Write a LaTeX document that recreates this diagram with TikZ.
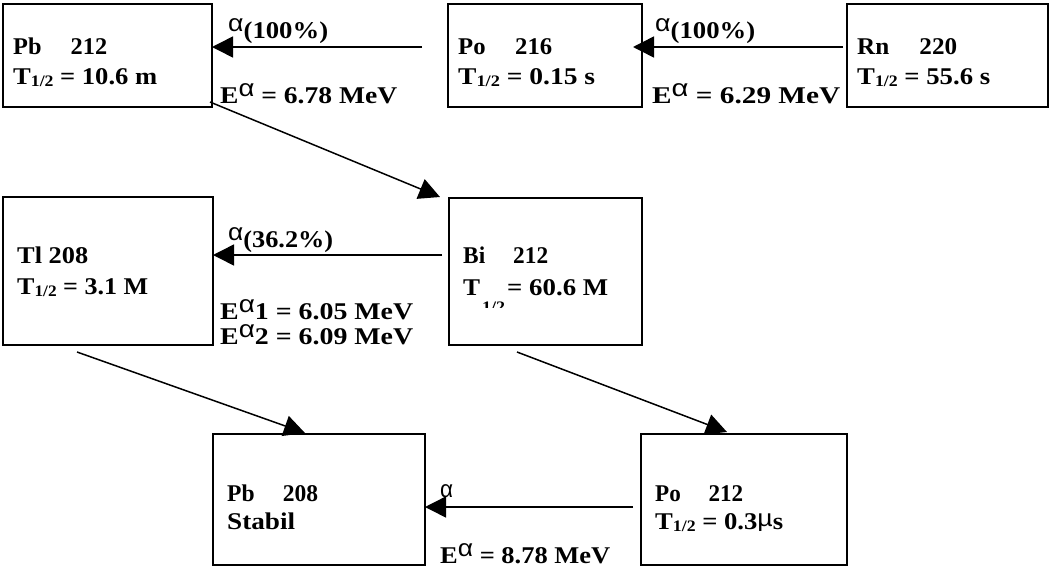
\documentclass[tikz,border=0pt]{standalone}
\usepackage{fontspec}
\usepackage{graphicx}
\setmainfont{Liberation Serif}
\newfontfamily\alfont{Liberation Sans}
\usetikzlibrary{arrows.meta}
\newcommand\alp{\raisebox{7pt}{\alfont\mdseries α}}
\newcommand\alq{{\alfont\mdseries α}}
\newcommand\muu{\raisebox{3pt}{\alfont\mdseries µ}}
\newcommand\half{\raisebox{-2pt}{\fontsize{16}{16}\selectfont 1/2}}
\newcommand\fw[2]{\resizebox{#1pt}{\height}{#2}}
\newcommand\gap{\hspace{1.2em}}
\begin{document}
\begin{tikzpicture}[x=1pt,y=-1pt,
  box/.style={draw, line width=2.2pt, rectangle, inner sep=0pt, outer sep=0pt, anchor=north west},
  lbl/.style={anchor=base west, inner sep=0pt, font=\fontsize{24}{28}\selectfont\bfseries},
  sublbl/.style={anchor=base west, inner sep=0pt, font=\fontsize{16}{16}\selectfont\bfseries},
  arr/.style={line width=1.5pt, -{Triangle[length=21pt,width=21pt]}}]
\useasboundingbox (0,0) rectangle (1059,568);
% boxes
\node[box, minimum width=209pt, minimum height=103pt] (pb212) at (3,4) {};
\node[box, minimum width=194pt, minimum height=103pt] (po216) at (448,4) {};
\node[box, minimum width=201pt, minimum height=103pt] (rn220) at (847,4) {};
\node[box, minimum width=210pt, minimum height=148pt] (tl208) at (3,197) {};
\node[box, minimum width=193pt, minimum height=147pt] (bi212) at (449,198) {};
\node[box, minimum width=212pt, minimum height=131pt] (pb208) at (213,434) {};
\node[box, minimum width=206pt, minimum height=131pt] (po212) at (641,434) {};
% box texts
\node[lbl] (pb212a) at (13,54) {\fw{94}{Pb\gap 212}};
\node[lbl] (pb212b) at (13,84) {\fw{144}{T\half\ = 10.6 m}};
\node[lbl] (po216a) at (458,54) {\fw{94}{Po\gap 216}};
\node[lbl] (po216b) at (458,84) {\fw{137}{T\half\ = 0.15 s}};
\node[lbl] (rn220a) at (857,54) {\fw{100}{Rn\gap 220}};
\node[lbl] (rn220b) at (857,84) {\fw{133}{T\half\ = 55.6 s}};
\node[lbl] (tl208a) at (17,263) {\fw{71}{Tl 208}};
\node[lbl] (tl208b) at (17,294) {\fw{131}{T\half\ = 3.1 M}};
\node[lbl] (bi212a) at (463,263) {\fw{85}{Bi\gap 212}};
\node[lbl] (bi212b) at (463,295) {\fw{17}{T}};
\begin{scope}
\clip (478,290) rectangle (506,307);
\node[sublbl] (bi212s) at (482,312) {\fw{23}{1/2}};
\end{scope}
\node[lbl] (bi212c) at (507,295) {\fw{101}{= 60.6 M}};
\node[lbl] (pb208a) at (227,501) {\fw{91}{Pb\gap 208}};
\node[lbl] (pb208b) at (227,529) {\fw{68}{Stabil}};
\node[lbl] (po212a) at (655,501) {\fw{88}{Po\gap 212}};
\node[lbl] (po212b) at (655,529) {\fw{128}{T\half\ = 0.3\muu s}};
% decay labels
\node[lbl] (l1) at (228,38) {\fw{100}{\alp(100\%)}};
\node[lbl] (e1) at (220,103) {\fw{177}{E\alp\ = 6.78 MeV}};
\node[lbl] (l2) at (655,38) {\fw{100}{\alp(100\%)}};
\node[lbl] (e2) at (652,103) {\fw{188}{E\alp\ = 6.29 MeV}};
\node[lbl] (l3) at (228,247) {\fw{105}{\alp(36.2\%)}};
\node[lbl] (e3) at (220,319) {\fw{193}{E\alp1 = 6.05 MeV}};
\node[lbl] (e4) at (220,344) {\fw{193}{E\alp2 = 6.09 MeV}};
\node[lbl] (l4) at (440,497) {\fw{13}{\alq}};
\node[lbl] (e5) at (440,563) {\fw{170}{E\alp\ = 8.78 MeV}};
% connectors
\coordinate (a1s) at (422,47);
\draw[arr] (a1s) -- (pb212.east |- a1s);
\coordinate (a2s) at (843,47);
\coordinate (a2e) at (633,47);
\draw[arr] (a2s) -- (a2e);
\coordinate (a3s) at (442,255);
\draw[arr] (a3s) -- (tl208.east |- a3s);
\coordinate (a4s) at (633,507);
\draw[arr] (a4s) -- (pb208.east |- a4s);
\coordinate (d1s) at (210,102);
\coordinate (d1e) at (440,197);
\draw[arr] (d1s) -- (d1e);
\coordinate (d2s) at (77,352);
\coordinate (d2e) at (305,433);
\draw[arr] (d2s) -- (d2e);
\coordinate (d3s) at (517,352);
\coordinate (d3e) at (727,432);
\draw[arr] (d3s) -- (d3e);
\end{tikzpicture}
\end{document}
